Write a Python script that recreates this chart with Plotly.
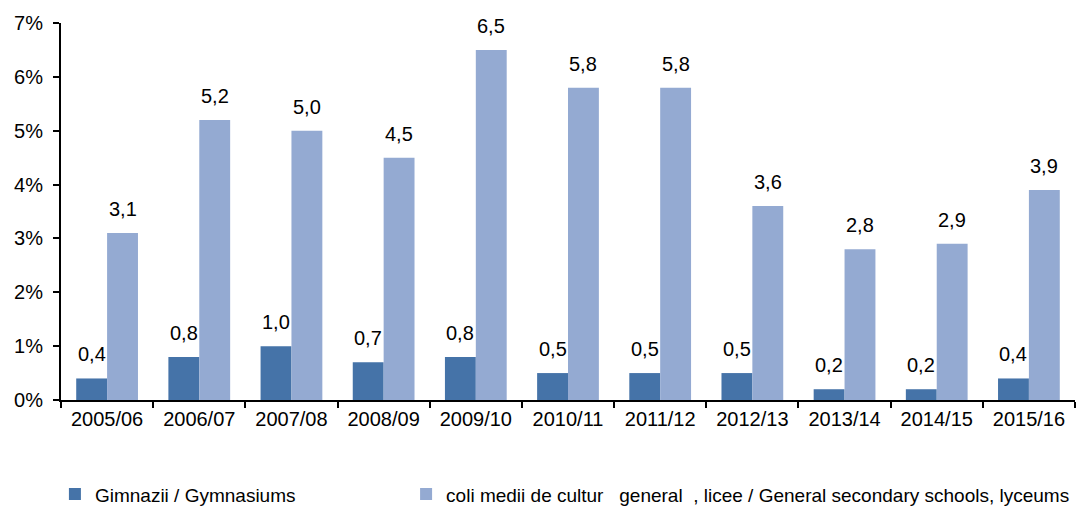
import plotly.graph_objects as go

categories = ["2005/06", "2006/07", "2007/08", "2008/09", "2009/10", "2010/11",
              "2011/12", "2012/13", "2013/14", "2014/15", "2015/16"]
gymnasiums = [0.4, 0.8, 1.0, 0.7, 0.8, 0.5, 0.5, 0.5, 0.2, 0.2, 0.4]
secondary = [3.1, 5.2, 5.0, 4.5, 6.5, 5.8, 5.8, 3.6, 2.8, 2.9, 3.9]
y_ticks = [0, 1, 2, 3, 4, 5, 6, 7]
y_tick_labels = ["0%", "1%", "2%", "3%", "4%", "5%", "6%", "7%"]
name1 = "Gimnazii / Gymnasiums" + " " * 20
name2 = "coli medii de cultur   general  , licee / General secondary schools, lyceums"

def fmt(v):
    return f"{v:.1f}".replace(".", ",")

font = "Liberation Sans, Arial, sans-serif"
W, H = 1076, 507
ML, MR, MT, MB = 61, 1, 23, 107
BARGAP = 0.33
plot_w = W - ML - MR
cat_w = plot_w / len(categories)
bar_w = cat_w * (1 - BARGAP) / 2

fig = go.Figure()
fig.add_trace(go.Bar(x=categories, y=gymnasiums, name=name1,
                     marker=dict(color="#4573A8", line=dict(width=0))))
fig.add_trace(go.Bar(x=categories, y=secondary, name=name2,
                     marker=dict(color="#94AAD2", line=dict(width=0))))

annotations = []
for series, sign in ((gymnasiums, -1), (secondary, 1)):
    for c, v in zip(categories, series):
        annotations.append(dict(
            x=c, y=v, xref="x", yref="y", text=fmt(v), showarrow=False,
            xanchor="center", yanchor="bottom", xshift=sign * bar_w / 2,
            yshift=11, font=dict(size=20, color="black", family=font)))

fig.update_layout(
    width=W, height=H,
    margin=dict(l=ML, r=MR, t=MT, b=MB, autoexpand=False),
    paper_bgcolor="white", plot_bgcolor="white",
    barmode="group", bargap=BARGAP, bargroupgap=0,
    font=dict(family=font, size=20, color="black"),
    showlegend=True,
    legend=dict(orientation="h", x=-0.006, xanchor="left", y=-0.25, yanchor="middle",
                font=dict(size=19, color="black", family=font),
                traceorder="normal"),
    xaxis=dict(showline=True, linecolor="black", linewidth=2, automargin=False,
               ticks="outside", tickson="boundaries", ticklen=6, tickcolor="black",
               tickwidth=2, showgrid=False, tickfont=dict(size=20)),
    yaxis=dict(range=[0, 7], tickvals=y_ticks, ticktext=y_tick_labels, automargin=False,
               showline=True, linecolor="black", linewidth=2,
               ticks="outside", ticklen=6, tickcolor="black", tickwidth=2,
               ticklabelstandoff=6,
               showgrid=False, zeroline=False, tickfont=dict(size=20)),
    annotations=annotations,
)

fig.write_html("out.html", config={"displayModeBar": False},
               post_script="document.body.style.margin='0';document.body.style.overflow='hidden';")
